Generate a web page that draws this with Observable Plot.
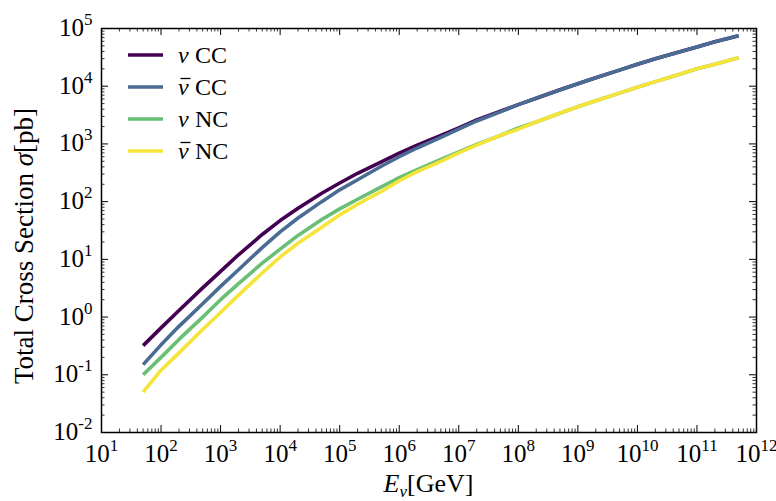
<!DOCTYPE html>
<html>
<head>
<meta charset="utf-8">
<script src="https://cdn.jsdelivr.net/npm/d3@7"></script>
<script src="https://cdn.jsdelivr.net/npm/@observablehq/plot@0.6"></script>
<style>
  html, body { margin: 0; padding: 0; background: #fff; }
  #chart { width: 776px; height: 501px; }
</style>
</head>
<body>
<div id="chart"></div>
<script>
// Neutrino–nucleon total cross sections (pb) versus neutrino energy (GeV)
const energyGeV = [50, 100, 200, 500, 1e3, 2e3, 5e3, 1e4, 2e4, 5e4, 1e5, 2e5, 5e5,
  1e6, 2e6, 5e6, 1e7, 2e7, 5e7, 1e8, 2e8, 5e8, 1e9, 2e9, 5e9, 1e10, 2e10, 5e10,
  1e11, 2e11, 5e11];
const nuCC    = [0.32, 0.65, 1.3, 3.2, 6.2, 12, 27, 47, 77, 140, 210, 310, 490,
  690, 950, 1400, 1900, 2600, 3700, 4800, 6200, 8700, 11000, 14000, 19000, 24000,
  30000, 39000, 48000, 59000, 75000];
const nubarCC = [0.15, 0.33, 0.69, 1.7, 3.4, 6.6, 16, 30, 52, 100, 160, 240, 410,
  600, 850, 1300, 1800, 2500, 3600, 4800, 6200, 8600, 11000, 14000, 19000, 24000,
  30000, 39000, 48000, 59000, 75000];
const nuNC    = [0.10, 0.20, 0.41, 1.0, 2.0, 3.8, 8.6, 15, 26, 49, 75, 110, 180,
  260, 360, 540, 730, 980, 1400, 1900, 2400, 3400, 4400, 5600, 7600, 9600,
  12000, 16000, 20000, 24000, 31000];
const nubarNC = [0.05, 0.12, 0.24, 0.61, 1.2, 2.4, 5.8, 11, 19, 36, 59, 90, 150,
  230, 330, 500, 700, 950, 1400, 1800, 2400, 3400, 4400, 5600, 7600, 9600,
  12000, 16000, 20000, 24000, 31000];

const seriesKeys   = ["nuCC", "nubarCC", "nuNC", "nubarNC"];
const seriesValues = [nuCC, nubarCC, nuNC, nubarNC];
const seriesColors = ["#440154", "#4a6b93", "#69bf74", "#f6e43a"];
const legendAntiparticle = [false, true, false, true];
const legendChannel  = ["CC", "CC", "NC", "NC"];

const xMajor = [1e1, 1e2, 1e3, 1e4, 1e5, 1e6, 1e7, 1e8, 1e9, 1e10, 1e11, 1e12];
const yMajor = [1e-2, 1e-1, 1e0, 1e1, 1e2, 1e3, 1e4, 1e5];
const xDecades = [1, 11];
const yDecades = [-2, 4];

const W = 776, H = 501;
const mL = 101, mR = 20, mT = 28, mB = 69;
const innerW = W - mL - mR, innerH = H - mT - mB;
const serif = '"Liberation Serif", "DejaVu Serif", serif';

function minorTicks([lo, hi]) {
  const out = [];
  for (let e = lo; e <= hi; e++) for (let k = 2; k <= 9; k++) out.push(+(k + "e" + e));
  return out;
}
const xMinor = minorTicks(xDecades);
const yMinor = minorTicks(yDecades);

const rows = seriesKeys.flatMap((key, s) =>
  energyGeV.map((E, i) => ({series: key, E, sigma: seriesValues[s][i]})));

const expFormat = d => "10^" + Math.round(Math.log10(d));
const major = 7, minor = 3.5;

const lineMarks = seriesKeys.map((key, s) =>
  Plot.line(rows.filter(r => r.series === key), {
    x: "E", y: "sigma", stroke: seriesColors[s], strokeWidth: 3.6,
    strokeLinecap: "butt", strokeLinejoin: "round"
  }));

const tickMarks = [
  Plot.tickX(xMajor, {x: d => d, insetTop: innerH - major, stroke: "#000", strokeWidth: 1}),
  Plot.tickX(xMajor, {x: d => d, insetBottom: innerH - major, stroke: "#000", strokeWidth: 1}),
  Plot.tickX(xMinor, {x: d => d, insetTop: innerH - minor, stroke: "#000", strokeWidth: 0.8}),
  Plot.tickX(xMinor, {x: d => d, insetBottom: innerH - minor, stroke: "#000", strokeWidth: 0.8}),
  Plot.tickY(yMajor, {y: d => d, insetRight: innerW - major, stroke: "#000", strokeWidth: 1}),
  Plot.tickY(yMajor, {y: d => d, insetLeft: innerW - major, stroke: "#000", strokeWidth: 1}),
  Plot.tickY(yMinor, {y: d => d, insetRight: innerW - minor, stroke: "#000", strokeWidth: 0.8}),
  Plot.tickY(yMinor, {y: d => d, insetLeft: innerW - minor, stroke: "#000", strokeWidth: 0.8})
];

const chart = Plot.plot({
  width: W, height: H,
  marginLeft: mL, marginRight: mR, marginTop: mT, marginBottom: mB,
  style: {fontFamily: serif, background: "#fff", color: "#000"},
  x: {type: "log", domain: [1e1, 1e12]},
  y: {type: "log", domain: [1e-2, 1e5]},
  marks: [
    ...lineMarks,
    Plot.axisX({ticks: xMajor, tickSize: 0, tickPadding: 12, tickFormat: expFormat, label: null, fontSize: 25}),
    Plot.axisY({ticks: yMajor, tickSize: 0, tickPadding: 9, tickFormat: expFormat, label: null, fontSize: 25}),
    ...tickMarks,
    Plot.frame({stroke: "#000", strokeWidth: 1.5})
  ]
});

const svg = d3.select(chart.tagName.toLowerCase() === "svg" ? chart : chart.querySelector("svg"));

// Rewrite "10^n" tick labels as a base with a raised exponent
svg.selectAll('g[aria-label="x-axis tick label"] text, g[aria-label="y-axis tick label"] text')
  .each(function() {
    const t = d3.select(this);
    const [base, exp] = this.textContent.split("^");
    t.text(null).attr("font-size", 25).attr("font-family", serif).attr("fill", "#000");
    t.append("tspan").text(base);
    t.append("tspan").attr("font-size", 17).attr("dy", -11).text(exp);
  });
svg.selectAll('g[aria-label="y-axis tick label"] text').attr("y", null).attr("dy", 7.5);

// Axis titles
const xTitle = svg.append("text")
  .attr("x", mL + innerW / 2).attr("y", 492)
  .attr("text-anchor", "middle").attr("font-family", serif).attr("font-size", 26).attr("fill", "#000");
xTitle.append("tspan").attr("font-style", "italic").text("E");
xTitle.append("tspan").attr("font-style", "italic").attr("font-size", 17).attr("dy", 5).text("\u03BD");
xTitle.append("tspan").attr("dy", -5).text("[GeV]");

const yTitle = svg.append("text")
  .attr("transform", `translate(33,246) rotate(-90)`)
  .attr("text-anchor", "middle").attr("font-family", serif).attr("font-size", 27).attr("fill", "#000");
yTitle.append("tspan").text("Total Cross Section ");
yTitle.append("tspan").attr("font-style", "italic").text("\u03C3");
yTitle.append("tspan").text("[pb]");

// Legend in the upper-left corner of the frame
const legend = svg.append("g")
  .attr("font-family", serif).attr("font-size", 24).attr("fill", "#000")
  .attr("text-anchor", "start");
seriesKeys.forEach((key, s) => {
  const y = 55 + s * 32;
  legend.append("line").attr("x1", 128).attr("x2", 163).attr("y1", y).attr("y2", y)
    .attr("stroke", seriesColors[s]).attr("stroke-width", 3.6);
  const baseline = y + 8;
  legend.append("text").attr("x", 178).attr("y", baseline)
    .attr("font-style", "italic").text("\u03BD");
  if (legendAntiparticle[s]) {
    // bar accent over the antineutrino symbol
    legend.append("line").attr("x1", 180.5).attr("x2", 190.5)
      .attr("y1", baseline - 16.5).attr("y2", baseline - 16.5)
      .attr("stroke", "#000").attr("stroke-width", 1.3);
  }
  legend.append("text").attr("x", 195).attr("y", baseline).text(legendChannel[s]);
});

document.getElementById("chart").appendChild(chart);
</script>
</body>
</html>
